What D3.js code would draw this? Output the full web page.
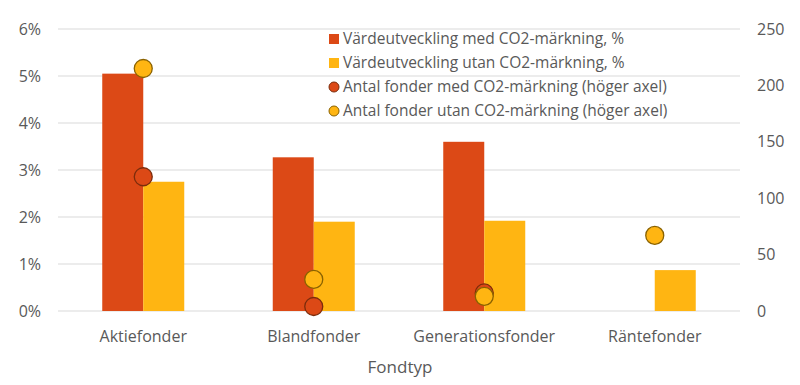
<!DOCTYPE html>
<html>
<head>
<meta charset="utf-8">
<script src="https://cdn.jsdelivr.net/npm/d3@7"></script>
<style>
  body { margin: 0; background: #fff; }
  text { font-family: "Open Sans", sans-serif; fill: #595959; }
</style>
</head>
<body>
<svg id="chart" width="800" height="385"></svg>
<script>
// data
const categories = ["Aktiefonder", "Blandfonder", "Generationsfonder", "Räntefonder"];
const valueWith = [5.05, 3.27, 3.60, null];      // % värdeutveckling med CO2-märkning
const valueWithout = [2.75, 1.90, 1.92, 0.87];  // % värdeutveckling utan CO2-märkning
const countWith = [119, 4, 16, null];           // antal fonder med CO2-märkning
const countWithout = [215, 28, 13, 67];         // antal fonder utan CO2-märkning
const leftTicks = [0, 1, 2, 3, 4, 5, 6];
const rightTicks = [0, 50, 100, 150, 200, 250];

const red = "#dc4916", yellow = "#ffb512";

const svg = d3.select("#chart");
const margin = {left: 58, right: 60, top: 29, bottom: 74};
const W = 800, H = 385;

const x = d3.scaleBand().domain(categories).range([margin.left, W - margin.right]);
const y = d3.scaleLinear().domain([0, 6]).range([H - margin.bottom, margin.top]);
const y2 = d3.scaleLinear().domain([0, 250]).range([H - margin.bottom, margin.top]);
const barW = 41;

// gridlines
svg.append("g")
  .selectAll("line")
  .data(leftTicks)
  .join("line")
  .attr("x1", margin.left).attr("x2", W - margin.right)
  .attr("y1", d => y(d)).attr("y2", d => y(d))
  .attr("stroke", "#d9d9d9").attr("stroke-width", 1);

// axes
const leftAxis = svg.append("g")
  .attr("transform", `translate(${margin.left},0)`)
  .call(d3.axisLeft(y).tickValues(leftTicks).tickFormat(d => d + "%").tickSize(0).tickPadding(17));
const rightAxis = svg.append("g")
  .attr("transform", `translate(${W - margin.right},0)`)
  .call(d3.axisRight(y2).tickValues(rightTicks).tickSize(0).tickPadding(17));
[leftAxis, rightAxis].forEach(a => {
  a.select(".domain").remove();
  a.selectAll("text").style("font-size", "16px").attr("fill", "#595959");
});

// bars
const bars = svg.append("g");
bars.selectAll("rect.with")
  .data(categories.map((c, i) => ({c, v: valueWith[i]})).filter(d => d.v != null))
  .join("rect")
  .attr("x", d => x(d.c) + x.bandwidth() / 2 - barW)
  .attr("y", d => y(d.v))
  .attr("width", barW)
  .attr("height", d => y(0) - y(d.v))
  .attr("fill", red);
bars.selectAll("rect.without")
  .data(categories.map((c, i) => ({c, v: valueWithout[i]})))
  .join("rect")
  .attr("x", d => x(d.c) + x.bandwidth() / 2)
  .attr("y", d => y(d.v))
  .attr("width", barW)
  .attr("height", d => y(0) - y(d.v))
  .attr("fill", yellow);

// points (right axis)
const pts = svg.append("g");
pts.selectAll("circle.with")
  .data(categories.map((c, i) => ({c, v: countWith[i]})).filter(d => d.v != null))
  .join("circle")
  .attr("cx", d => x(d.c) + x.bandwidth() / 2)
  .attr("cy", d => y2(d.v))
  .attr("r", 9)
  .attr("fill", red)
  .attr("stroke", "#7b2c0c").attr("stroke-width", 1.3);
pts.selectAll("circle.without")
  .data(categories.map((c, i) => ({c, v: countWithout[i]})))
  .join("circle")
  .attr("cx", d => x(d.c) + x.bandwidth() / 2)
  .attr("cy", d => y2(d.v))
  .attr("r", 9)
  .attr("fill", yellow)
  .attr("stroke", "#8a6200").attr("stroke-width", 1.3);

// category labels
svg.append("g")
  .selectAll("text")
  .data(categories)
  .join("text")
  .attr("x", d => x(d) + x.bandwidth() / 2)
  .attr("y", 342)
  .attr("text-anchor", "middle")
  .style("font-size", "16px")
  .text(d => d);

svg.append("text")
  .attr("x", 400).attr("y", 373)
  .attr("text-anchor", "middle")
  .style("font-size", "17px")
  .text("Fondtyp");

// legend
const legendItems = [
  {label: "Värdeutveckling med CO2-märkning, %", color: red, shape: "rect"},
  {label: "Värdeutveckling utan CO2-märkning, %", color: yellow, shape: "rect"},
  {label: "Antal fonder med CO2-märkning (höger axel)", color: red, stroke: "#7b2c0c", shape: "circle"},
  {label: "Antal fonder utan CO2-märkning (höger axel)", color: yellow, stroke: "#8a6200", shape: "circle"}
];
const legend = svg.append("g")
  .selectAll("g")
  .data(legendItems)
  .join("g")
  .attr("transform", (d, i) => `translate(334, ${39 + 24 * i})`);
legend.filter(d => d.shape === "rect").append("rect")
  .attr("x", -5).attr("y", -5).attr("width", 10).attr("height", 10)
  .attr("fill", d => d.color);
legend.filter(d => d.shape === "circle").append("circle")
  .attr("r", 5).attr("fill", d => d.color).attr("stroke", d => d.stroke).attr("stroke-width", 1);
legend.append("text")
  .attr("x", 9).attr("dy", "0.35em")
  .style("font-size", "15.5px")
  .text(d => d.label);
</script>
</body>
</html>
